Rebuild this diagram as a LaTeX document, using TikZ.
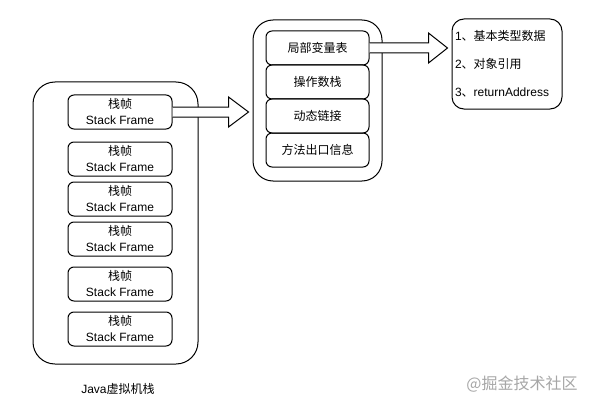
\documentclass[tikz,border=0pt]{standalone}
\usepackage{fontspec}
\setmainfont{Liberation Sans}
\newfontfamily\cjk{Noto Sans CJK SC}
\usetikzlibrary{calc}

\begin{document}
\begin{tikzpicture}[x=1pt,y=-1pt,line width=1pt,
  container/.style={draw,inner sep=0pt},
  frame/.style={draw,rounded corners=6pt,minimum width=104pt,minimum height=34pt,inner sep=0pt,align=center,font=\fontsize{12}{16}\selectfont},
  slot/.style={draw,rounded corners=6pt,minimum width=103pt,minimum height=34pt,inner sep=0pt,font=\fontsize{12}{15}\selectfont\cjk},
  bigarrow/.style={draw,fill=white,line join=miter}]
\useasboundingbox (0,0) rectangle (592,404);

% Java stack
\node[container,rounded corners=22pt,minimum width=165pt,minimum height=282pt] (jvm) at (115.5,223) {};
\node[frame] (f1) at (120,112) {{\cjk 栈帧}\\Stack Frame};
\node[frame] (f2) at (120,159) {{\cjk 栈帧}\\Stack Frame};
\node[frame] (f3) at (120,199) {{\cjk 栈帧}\\Stack Frame};
\node[frame] (f4) at (120,239) {{\cjk 栈帧}\\Stack Frame};
\node[frame] (f5) at (120,284) {{\cjk 栈帧}\\Stack Frame};
\node[frame] (f6) at (120,329) {{\cjk 栈帧}\\Stack Frame};
\node[font=\fontsize{12}{15}\selectfont] (jvmlabel) at (118,389) {Java{\cjk 虚拟机栈}};

% one frame
\node[container,rounded corners=20pt,minimum width=129pt,minimum height=161pt] (frameBox) at (317.5,100.5) {};
\node[slot] (locals) at (317.5,48) {局部变量表};
\node[slot] (operands) at (317.5,82) {操作数栈};
\node[slot] (linking) at (317.5,116) {动态链接};
\node[slot] (exit) at (317.5,150) {方法出口信息};

% local variables
\node[draw,rounded corners=12pt,minimum width=110pt,minimum height=90pt,text width=104pt,inner xsep=3pt,align=left,font=\fontsize{12}{28}\selectfont] (vars) at (507,64)
  {1{\cjk 、基本类型数据}\\2{\cjk 、对象引用}\\3{\cjk 、}returnAddress};

\draw[bigarrow] ($(f1.east)+(0,-5)$) -- ++(56,0) -- ++(0,-10) -- ++(20,15) -- ++(-20,15) -- ++(0,-10) -- ++(-56,0);
\draw[bigarrow] ($(locals.east)+(0,-5)$) -- ++(59,0) -- ++(0,-10) -- ++(19,15) -- ++(-19,15) -- ++(0,-10) -- ++(-59,0);

\node[text=black!35,font=\fontsize{16}{18}\selectfont\cjk] (mark) at (522,384) {@掘金技术社区};
\end{tikzpicture}
\end{document}
